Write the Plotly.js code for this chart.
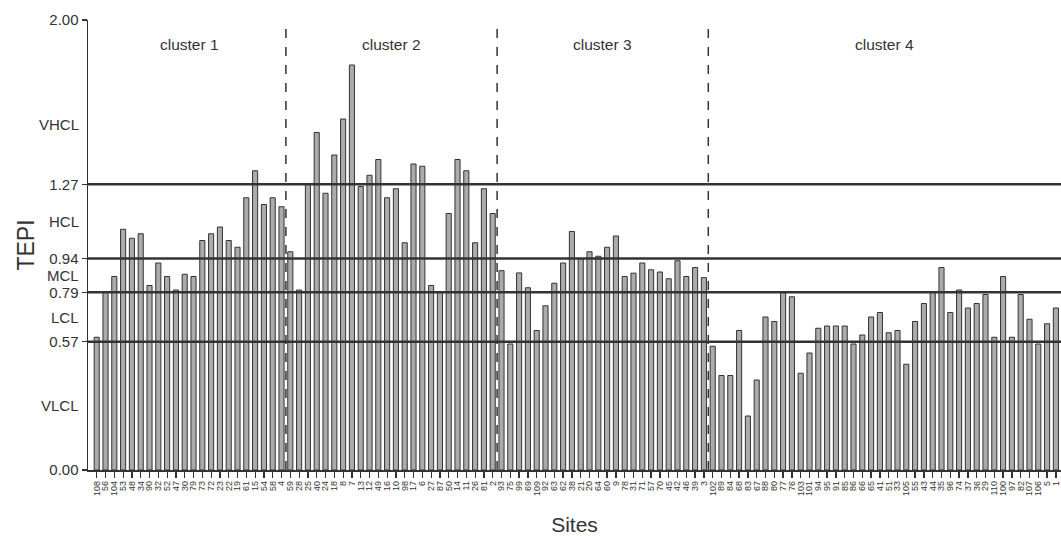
<!DOCTYPE html>
<html>
<head>
<meta charset="utf-8">
<script src="https://cdn.plot.ly/plotly-3.0.1.min.js"></script>
<style>html,body{margin:0;padding:0;background:#fff;}#chart{width:1061px;height:536px;}</style>
</head>
<body>
<div id="chart"></div>
<script>
// Site labels in plotted order
const sites = [
  "108","56","104","53","48","34","90","32","52","47","30","79","73","72","23","22","19","61","15","54","58","4",
  "59","28","25","40","24","18","8","7","13","12","49","16","10","98","17","6","27","87","50","14","11","26","81","2",
  "93","75","99","69","109","92","63","62","38","21","20","64","60","9","78","31","71","57","70","45","42","46","39","3",
  "102","89","84","68","83","67","88","80","77","76","103","101","94","95","91","85","86","66","65","41","51","33","105","55","43","44","35","96","74","37","36","29","110","100","97","82","107","106","5","1"
];
// TEPI values
const tepi = [
  0.59,0.79,0.86,1.07,1.03,1.05,0.82,0.92,0.86,0.80,0.87,0.86,1.02,1.05,1.08,1.02,0.99,1.21,1.33,1.18,1.21,1.17,
  0.97,0.80,1.27,1.50,1.23,1.40,1.56,1.80,1.26,1.31,1.38,1.21,1.25,1.01,1.36,1.35,0.82,0.79,1.14,1.38,1.33,1.01,1.25,1.14,
  0.886,0.56,0.876,0.81,0.62,0.73,0.83,0.92,1.06,0.94,0.97,0.95,0.99,1.04,0.86,0.875,0.92,0.89,0.88,0.85,0.93,0.86,0.90,0.855,
  0.55,0.42,0.42,0.62,0.24,0.40,0.68,0.66,0.79,0.77,0.43,0.52,0.63,0.64,0.64,0.64,0.56,0.60,0.68,0.70,0.61,0.62,0.47,0.66,0.74,0.79,0.90,0.70,0.80,0.72,0.74,0.78,0.59,0.86,0.59,0.78,0.67,0.56,0.65,0.72
];
// Cluster sizes and names
const clusterSizes = [22, 24, 24, 40];
const clusterNames = ["cluster 1", "cluster 2", "cluster 3", "cluster 4"];
// Thresholds and class labels
const thresholds = [0.57, 0.79, 0.94, 1.27];
const numTicks = [0.00, 0.57, 0.79, 0.94, 1.27, 2.00];
const classNames = ["VLCL", "LCL", "MCL", "HCL", "VHCL"];
const classBounds = [0, 0.57, 0.79, 0.94, 1.27, 1.80];

const idx = sites.map((_, i) => i);
const font = "Liberation Sans, Arial, sans-serif";
const dark = "#333333";

const shapes = [];
thresholds.forEach(t => shapes.push({
  type: "line", xref: "paper", yref: "y", x0: 0, x1: 1, y0: t, y1: t,
  line: {color: dark, width: 2.5}, layer: "above"
}));
let cum = 0;
const annotations = [];
clusterSizes.forEach((n, k) => {
  const start = cum;
  cum += n;
  if (k < clusterSizes.length - 1) {
    shapes.push({type: "line", xref: "x", yref: "paper", x0: cum - 0.5, x1: cum - 0.5, y0: 0, y1: 1,
      line: {color: dark, width: 1.5, dash: "dash"}, layer: "above"});
  }
  annotations.push({x: (start + cum - 1) / 2, y: 1.89, xref: "x", yref: "y", text: clusterNames[k],
    showarrow: false, font: {family: font, size: 15.5, color: dark}});
});
classNames.forEach((c, i) => {
  annotations.push({x: 0, xref: "paper", xanchor: "right", xshift: -7,
    y: (classBounds[i] + classBounds[i + 1]) / 2, yref: "y",
    text: c, showarrow: false, font: {family: font, size: 15, color: dark}});
});

const trace = {
  type: "bar", x: idx, y: tepi,
  marker: {color: "#ababab", line: {color: dark, width: 1}},
  hoverinfo: "none"
};

const layout = {
  width: 1061, height: 536,
  margin: {l: 88, r: 0, t: 20, b: 66},
  paper_bgcolor: "#ffffff", plot_bgcolor: "#ffffff",
  showlegend: false,
  bargap: 0.42,
  font: {family: font, color: dark},
  xaxis: {
    range: [-0.99, 109.58],
    tickmode: "array", tickvals: idx, ticktext: sites,
    tickangle: -90, tickfont: {family: font, size: 9, color: dark},
    ticks: "outside", ticklen: 6, tickwidth: 1.2, tickcolor: dark,
    showline: true, linecolor: dark, linewidth: 1.5,
    showgrid: false, zeroline: false,
    title: {text: "Sites", font: {family: font, size: 21, color: dark}, standoff: 22}
  },
  yaxis: {
    range: [0, 2],
    tickmode: "array", tickvals: numTicks, ticktext: numTicks.map(v => v.toFixed(2)),
    tickfont: {family: font, size: 15, color: dark},
    ticks: "outside", ticklen: 5, tickwidth: 1.2, tickcolor: dark,
    showline: true, linecolor: dark, linewidth: 1.5,
    showgrid: false, zeroline: false,
    title: {text: "TEPI", font: {family: font, size: 23, color: dark}, standoff: 8}
  },
  shapes: shapes,
  annotations: annotations
};

Plotly.newPlot("chart", [trace], layout, {staticPlot: true, displayModeBar: false});
</script>
</body>
</html>
